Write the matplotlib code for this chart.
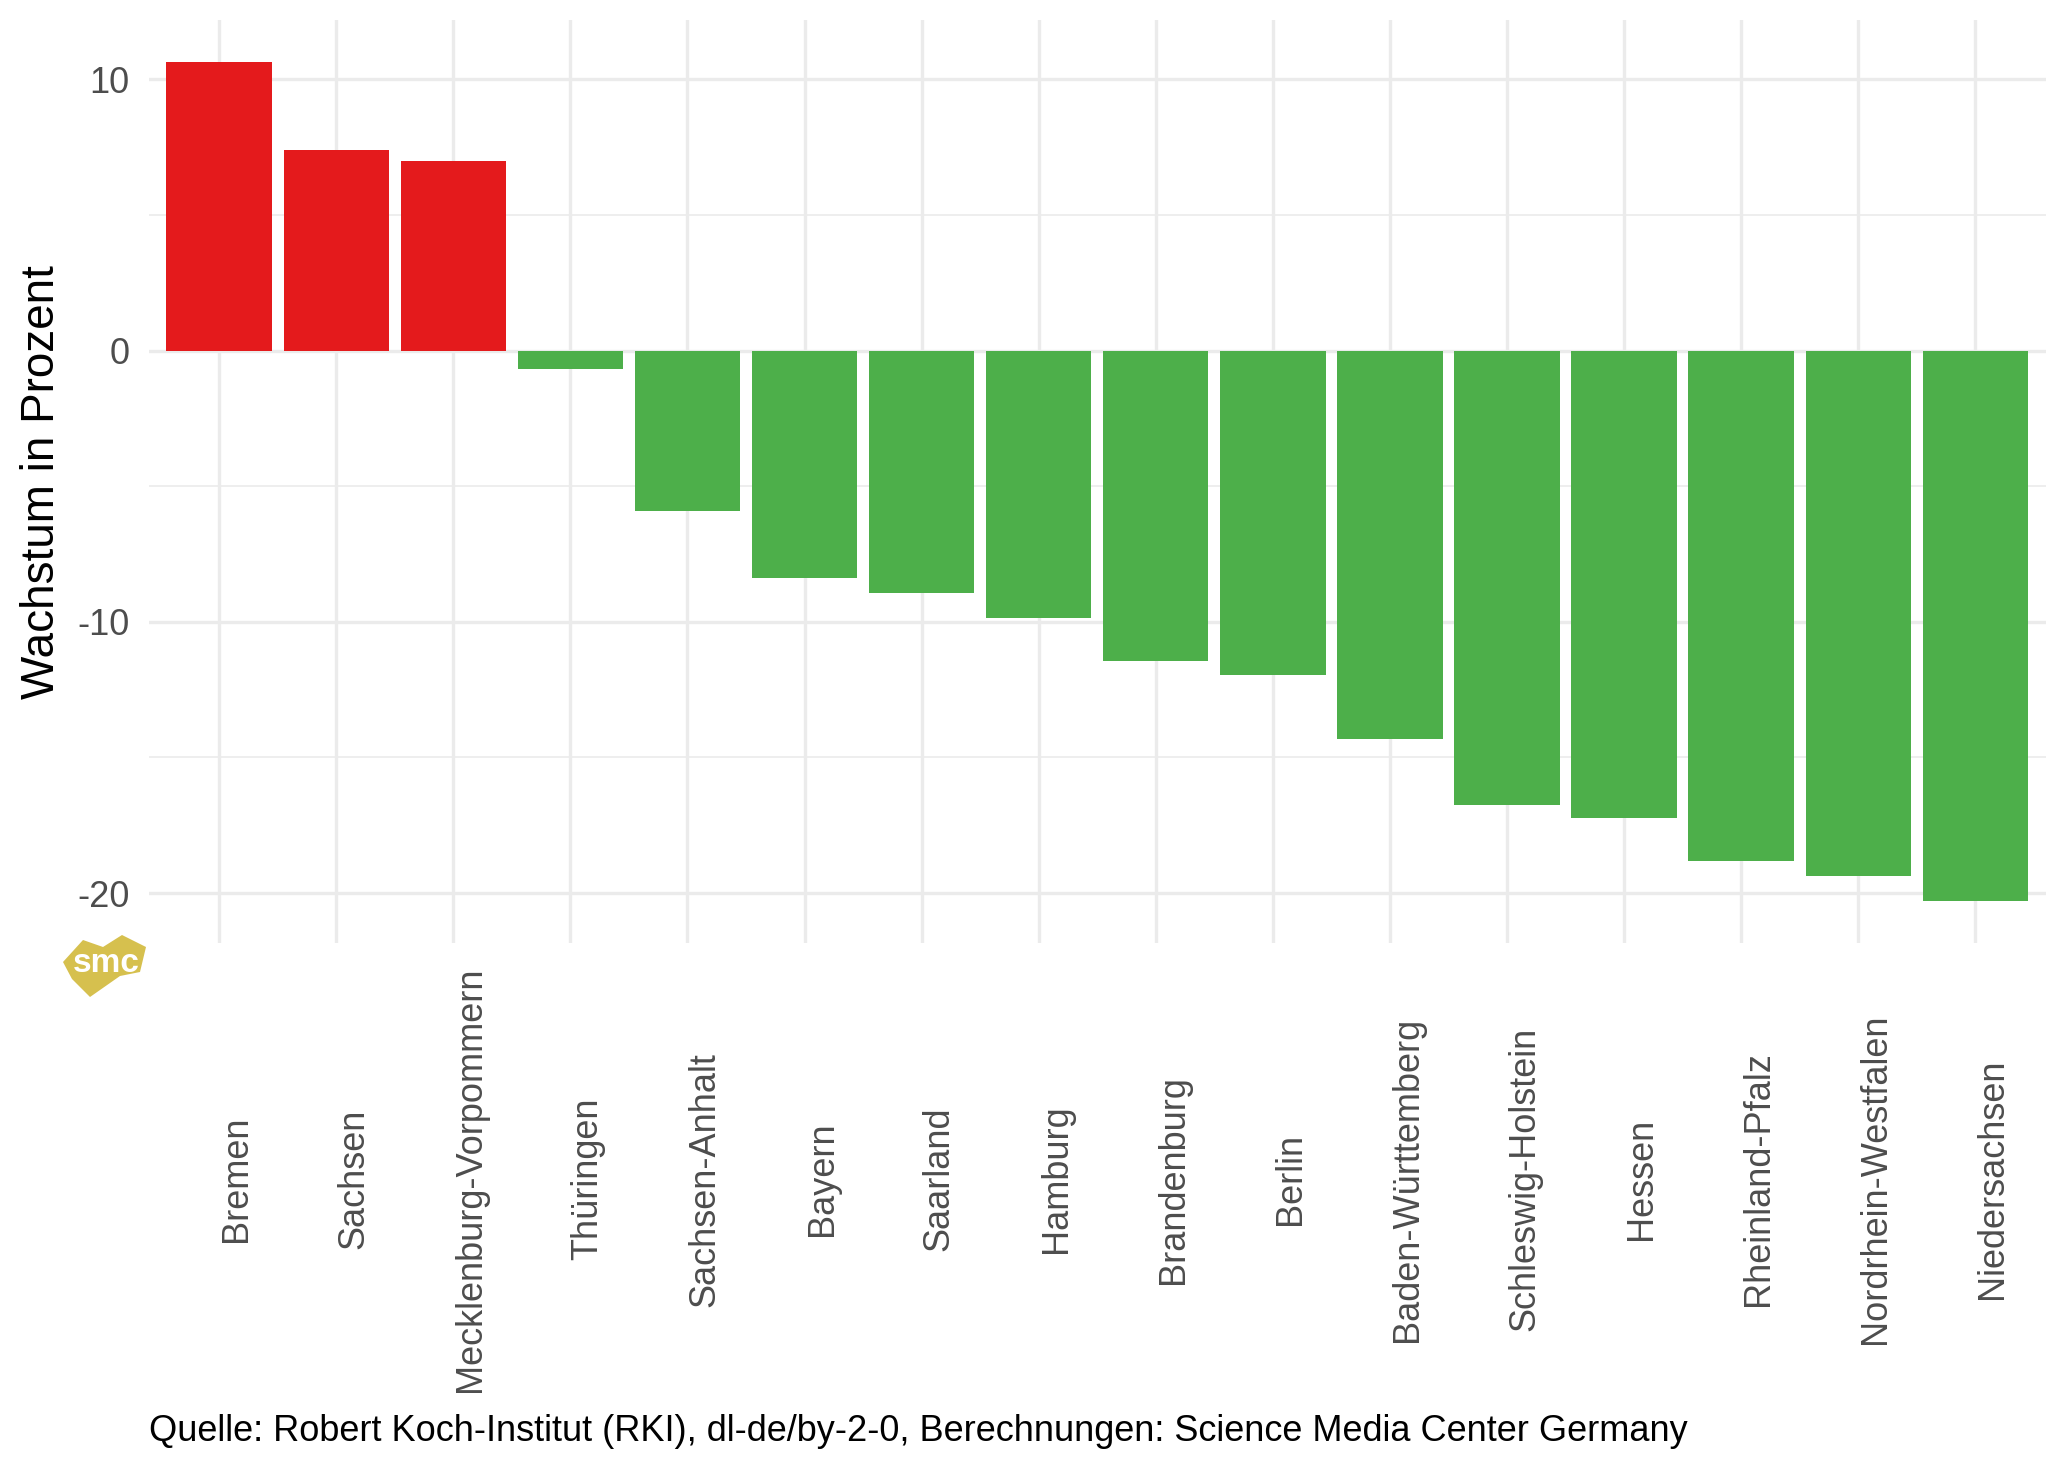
import matplotlib
matplotlib.use("Agg")
import matplotlib.pyplot as plt
import matplotlib.transforms as mtransforms
from matplotlib.patches import Polygon

# ---- data ----
states = ["Bremen", "Sachsen", "Mecklenburg-Vorpommern", "Thüringen", "Sachsen-Anhalt",
          "Bayern", "Saarland", "Hamburg", "Brandenburg", "Berlin", "Baden-Württemberg",
          "Schleswig-Holstein", "Hessen", "Rheinland-Pfalz", "Nordrhein-Westfalen",
          "Niedersachsen"]
growth = [10.65, 7.41, 6.98, -0.68, -5.9, -8.39, -8.93, -9.85, -11.46, -11.95, -14.33,
          -16.77, -17.23, -18.83, -19.38, -20.31]
y_ticks = [-20, -10, 0, 10]
y_minor = [-15, -5, 5]
ylabel = "Wachstum in Prozent"
caption = "Quelle: Robert Koch-Institut (RKI), dl-de/by-2-0, Berechnungen: Science Media Center Germany"

RED = "#E41A1C"
GREEN = "#4DAF4A"
GRID = "#EBEBEB"
TXT = "#4D4D4D"

plt.rcParams["font.family"] = ["Liberation Sans", "DejaVu Sans"]

fig = plt.figure(figsize=(20.48, 14.62), dpi=100)
ax = fig.add_axes([0.0727, 0.3547, 0.9261, 0.6318])

x = list(range(1, len(states) + 1))
colors = [RED if v > 0 else GREEN for v in growth]
ax.bar(x, growth, width=0.9, color=colors, zorder=3, linewidth=0)

ax.set_xlim(0.4, len(states) + 0.6)
lo = min(min(growth), 0)
hi = max(max(growth), 0)
rng = hi - lo
ax.set_ylim(lo - 0.05 * rng, hi + 0.05 * rng)

ax.set_yticks(y_ticks)
ax.set_yticklabels([str(t) for t in y_ticks])
ax.set_yticks(y_minor, minor=True)
ax.set_xticks(x)
ax.set_xticklabels([])
ax.tick_params(axis="both", which="both", length=0)
ax.tick_params(axis="y", labelsize=26, labelcolor=TXT, pad=14)

ax.grid(True, which="major", axis="both", color=GRID, linewidth=2.4, zorder=0)
ax.grid(True, which="minor", axis="y", color=GRID, linewidth=1.2, zorder=0)
ax.set_axisbelow(True)
for s in ax.spines.values():
    s.set_visible(False)

# x category labels (rotated)
trans = mtransforms.blended_transform_factory(ax.transData, fig.transFigure)
for xi, name in zip(x, states):
    ax.text(xi, 0.1935, name, rotation=90, ha="left", va="center", fontsize=26,
            color=TXT, transform=trans)

fig.text(0.0206, 0.3547 + 0.6318 / 2, ylabel, rotation=90, ha="center", va="center",
         fontsize=33, color="black")

fig.text(0.0728, 0.021, caption, ha="left", va="center", fontsize=26, color="black")

# smc logo
lax = fig.add_axes([63 / 2048, 1 - 999 / 1462, 85 / 2048, 64 / 1462])
lax.set_xlim(0, 85)
lax.set_ylim(64, 0)
lax.axis("off")
pts = [(0, 27), (20, 5), (40, 12), (59, 0), (83, 12), (77, 37), (57, 41), (27, 62), (9, 44)]
lax.add_patch(Polygon(pts, closed=True, facecolor="#D6C04E", edgecolor="none"))
lax.text(43, 28, "smc", ha="center", va="center", fontsize=24, fontweight="bold",
         color="white")

fig.savefig("out.png", dpi=100, facecolor="white")
